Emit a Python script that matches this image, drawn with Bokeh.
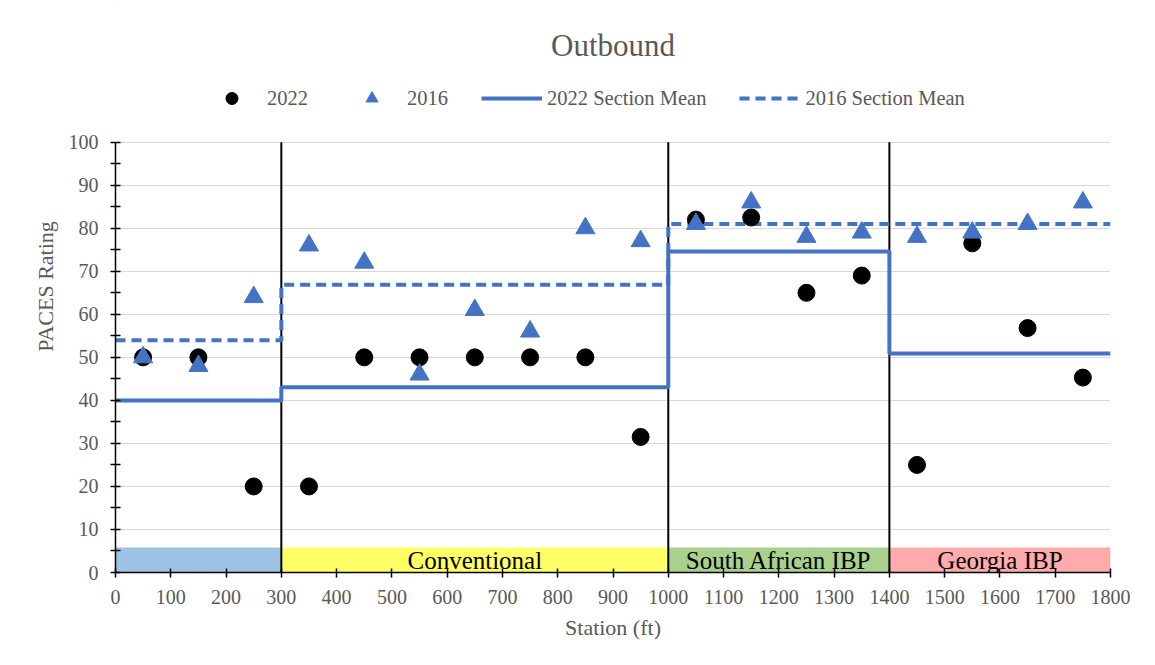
import numpy as np
from bokeh.plotting import figure
from bokeh.models import (Range1d, FixedTicker, Label, Legend, LegendItem,
                          ColumnDataSource)
from bokeh.core.properties import value
from bokeh.embed import file_html
from bokeh.resources import INLINE

# Stations (ft) and PACES ratings
stations = [50, 150, 250, 350, 450, 550, 650, 750, 850, 950,
            1050, 1150, 1250, 1350, 1450, 1550, 1650, 1750]
rating_2022 = [50, 50, 20, 20, 50, 50, 50, 50, 50, 31.5,
               82, 82.5, 65, 69, 25, 76.5, 56.8, 45.3]
rating_2016 = [50, 48, 64, 76, 72, 46, 61, 56, 80, 77,
               81, 86, 78, 79, 78, 79, 81, 86]

# Pavement sections along the station line
section_bounds = [0, 300, 1000, 1400, 1800]
section_names = ["", "Conventional", "South African IBP", "Georgia IBP"]
section_colors = ["#9DC3E6", "#FFFF66", "#A9D18E", "#FFABAB"]
band_top = 5.8

x_ticks = list(range(0, 1801, 100))
y_ticks = list(range(0, 101, 10))
y_minor = list(range(5, 100, 10))

FONT = "Liberation Serif"
GREY = "#595959"
BLUE = "#4472C4"

# the frame runs to the top of the canvas so the title and legend
# sit inside it; the rating axis itself stops at 100
Y_TOP = 132.93


def section_means(vals):
    st = np.array(stations)
    v = np.array(vals, dtype=float)
    out = []
    for a, b in zip(section_bounds[:-1], section_bounds[1:]):
        out.append(v[(st > a) & (st < b)].mean())
    return out


def step_xy(means):
    xs, ys = [], []
    for (a, b), m in zip(zip(section_bounds[:-1], section_bounds[1:]), means):
        xs += [a, b]
        ys += [m, m]
    return xs, ys


p = figure(width=1155, height=665, output_backend="svg", toolbar_location=None,
           x_range=Range1d(0, 1800), y_range=Range1d(0, Y_TOP),
           min_border_left=115, min_border_right=45,
           min_border_top=0, min_border_bottom=93)
p.outline_line_color = None
p.background_fill_color = "white"
p.border_fill_color = "white"
# thin chart-area border
p.styles = {"outline": "1px solid #D9D9D9", "outline-offset": "-8px"}

# grid
p.xgrid.grid_line_color = None
p.ygrid.grid_line_color = "#D9D9D9"
p.ygrid.grid_line_width = 1
p.ygrid.ticker = FixedTicker(ticks=y_ticks)

# axes
for ax in (p.xaxis[0], p.yaxis[0]):
    ax.axis_line_color = "black"
    ax.axis_line_width = 1.5
    ax.major_tick_line_color = "black"
    ax.major_tick_line_width = 1.5
    ax.minor_tick_line_color = "black"
    ax.minor_tick_line_width = 1.5
    ax.major_label_text_font = FONT
    ax.major_label_text_font_size = "20px"
    ax.major_label_text_color = GREY
    ax.axis_label_text_font = FONT
    ax.axis_label_text_font_size = "22px"
    ax.axis_label_text_color = GREY
    ax.axis_label_text_font_style = "normal"

p.xaxis.ticker = FixedTicker(ticks=x_ticks)
p.xaxis.major_tick_in = 4
p.xaxis.major_tick_out = 5
p.xaxis.minor_tick_line_color = None
p.xaxis.major_label_standoff = 12
p.xaxis.axis_label = "Station (ft)"
p.xaxis.axis_label_standoff = 8

p.yaxis.ticker = FixedTicker(ticks=y_ticks, minor_ticks=y_minor)
p.yaxis.bounds = (0, 100)
p.yaxis.major_tick_in = 5
p.yaxis.major_tick_out = 5
p.yaxis.minor_tick_in = 5
p.yaxis.minor_tick_out = 5
p.yaxis.major_label_standoff = 12
p.yaxis.axis_label = "PACES Rating"
p.yaxis.axis_label_standoff = 8

# section bands along the bottom
lefts = section_bounds[:-1]
rights = section_bounds[1:]
band_src = ColumnDataSource(dict(
    left=lefts, right=rights, top=[band_top] * len(lefts),
    bottom=[0] * len(lefts), color=section_colors,
    cx=[(a + b) / 2 for a, b in zip(lefts, rights)], name=section_names))
p.quad(left="left", right="right", top="top", bottom="bottom",
       fill_color="color", line_color=None, source=band_src)
p.text(x="cx", y=2.7, text="name", source=band_src,
       text_font=value(FONT), text_font_size="25px", text_color="black",
       text_align="center", text_baseline="middle")

# section dividers
for xb in section_bounds[1:-1]:
    p.line([xb, xb], [0, 100], line_color="black", line_width=2)

# section means
m22 = section_means(rating_2022)
m16 = section_means(rating_2016)
x22, y22 = step_xy(m22)
x16, y16 = step_xy(m16)
r_mean22 = p.line(x22, y22, line_color=BLUE, line_width=4)
r_mean16 = p.line(x16, y16, line_color=BLUE, line_width=4, line_dash="10 6")

# ratings
r22 = p.scatter(stations, rating_2022, marker="circle", size=17,
                fill_color="black", line_color="black")
r16 = p.scatter(stations, rating_2016, marker="triangle", size=19,
                fill_color=BLUE, line_color=BLUE)

# title
p.add_layout(Label(x=900, y=122.5, text="Outbound", text_font=FONT,
                   text_font_size="31px", text_color=GREY,
                   text_align="center", text_baseline="middle"))

legend = Legend(items=[
    LegendItem(label="2022", renderers=[r22]),
    LegendItem(label="2016", renderers=[r16]),
    LegendItem(label="2022 Section Mean", renderers=[r_mean22]),
    LegendItem(label="2016 Section Mean", renderers=[r_mean16]),
], orientation="horizontal", location=(86, 459),
    glyph_width=61, glyph_height=30, label_height=30,
    label_standoff=5, spacing=33, padding=0, margin=0,
    border_line_color=None, background_fill_alpha=0,
    label_text_font=FONT, label_text_font_size="20.5px",
    label_text_color=GREY)
p.add_layout(legend, "center")

open("out.html", "w").write(file_html(p, INLINE))
